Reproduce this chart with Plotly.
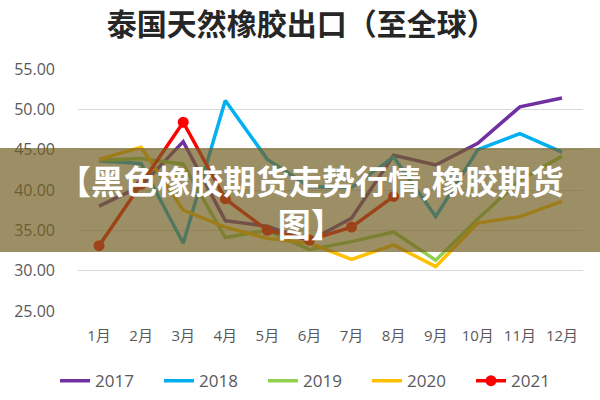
import plotly.graph_objects as go

months = ["1月", "2月", "3月", "4月", "5月", "6月", "7月", "8月", "9月", "10月", "11月", "12月"]
y2017 = [38.0, 40.5, 46.0, 36.2, 35.5, 33.7, 36.5, 44.3, 43.1, 45.8, 50.3, 51.4]
y2018 = [43.6, 43.3, 33.4, 51.1, 43.8, 40.4, 40.3, 44.1, 36.7, 45.0, 47.0, 44.7]
y2019 = [43.7, 43.9, 43.2, 34.1, 35.0, 32.6, 33.6, 34.8, 31.3, 36.4, 41.2, 44.2]
y2020 = [43.8, 45.3, 37.5, 35.4, 34.0, 33.4, 31.4, 33.2, 30.5, 35.9, 36.7, 38.6]
y2021 = [33.1, 40.7, 48.4, 38.9, 35.0, 33.8, 35.4, 39.2]

series = [
    ("2017", y2017, "#7030A0"),
    ("2018", y2018, "#00B0F0"),
    ("2019", y2019, "#92D050"),
    ("2020", y2020, "#FFC000"),
]

FONT = "Open Sans, Noto Sans CJK SC, sans-serif"
fig = go.Figure()
for name, vals, col in series:
    fig.add_trace(go.Scatter(x=months[:len(vals)], y=vals, name=name, mode="lines",
                             line=dict(color=col, width=3.5)))
fig.add_trace(go.Scatter(x=months[:len(y2021)], y=y2021, name="2021", mode="lines+markers",
                         line=dict(color="#FF0000", width=3.5),
                         marker=dict(color="#FF0000", size=11)))

fig.update_layout(
    width=600, height=400,
    margin=dict(l=78, r=17, t=69, b=89, autoexpand=False),
    plot_bgcolor="white", paper_bgcolor="white",
    font=dict(family=FONT, color="#595959", size=15),
    title=dict(text="<b>泰国天然橡胶出口（至全球）</b>", x=0.503, xanchor="center",
               y=0.94, yanchor="middle",
               font=dict(family="Noto Sans CJK SC", size=30, color="#262626")),
    xaxis=dict(type="category", range=[-0.5, 11.5], showgrid=False, showline=False,
               zeroline=False, ticks="", ticklabelstandoff=14, automargin=False,
               tickfont=dict(size=15, color="#595959")),
    yaxis=dict(range=[25, 55], dtick=5, tickformat=".2f", showgrid=True,
               gridcolor="#D9D9D9", gridwidth=1, zeroline=False, showline=False,
               ticks="", ticklabelstandoff=22, automargin=False,
               tickfont=dict(size=16, color="#595959")),
    legend=dict(orientation="h", x=(55 - 78) / 505, xanchor="left", y=-0.29, yanchor="middle",
                font=dict(size=17, color="#595959"), entrywidth=59,
                entrywidthmode="pixels", tracegroupgap=0),
    showlegend=True,
)

fig.add_shape(type="rect", xref="paper", yref="paper",
              x0=-0.2, x1=1.1, y0=(311 - 252) / 242, y1=(311 - 148) / 242,
              fillcolor="rgba(115,95,35,0.70)", line=dict(width=0), layer="above")
fig.add_annotation(xref="paper", yref="paper", x=(311 - 78) / 505, y=(311 - 201) / 242,
                   xanchor="center", yanchor="middle", showarrow=False, align="center",
                   text="<b>【黑色橡胶期货走势行情,橡胶期货<br>图】</b>",
                   font=dict(family="Noto Sans CJK SC", size=33, color="white"))

fig.write_html("out.html", config={"displayModeBar": False},
               post_script="document.body.style.margin='0';")
